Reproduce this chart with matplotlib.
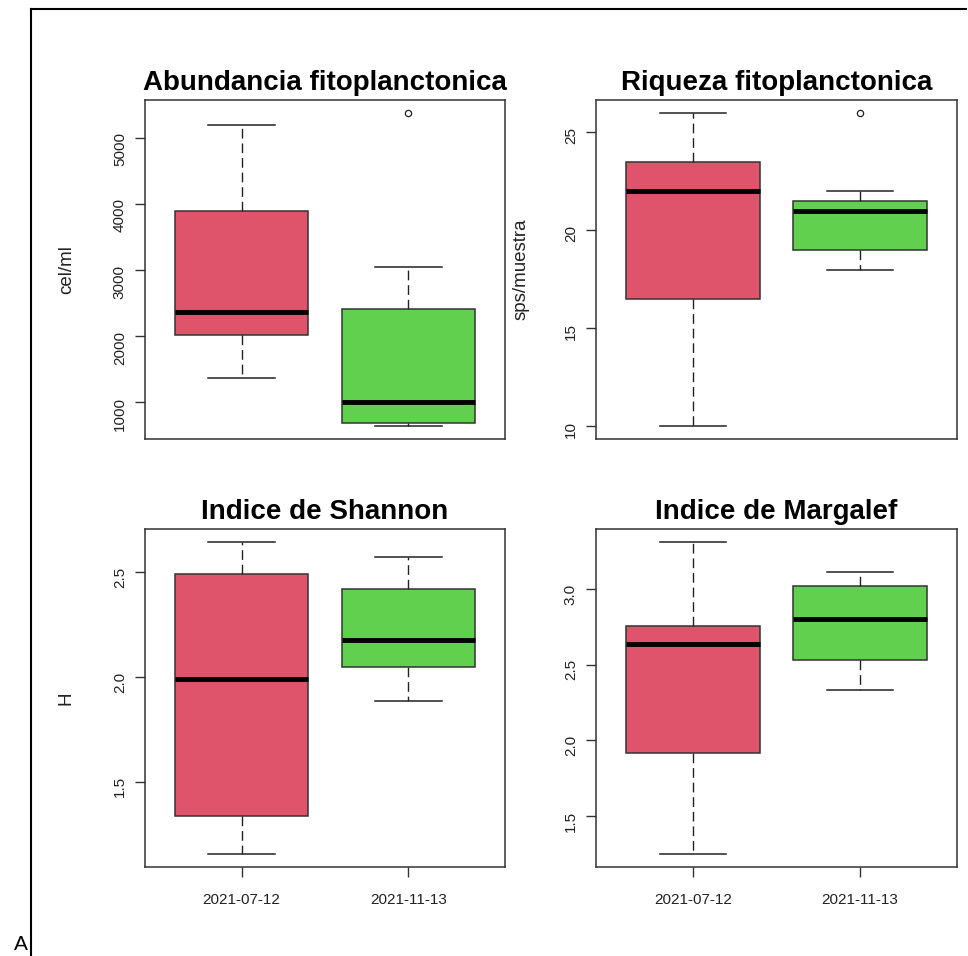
import numpy as np
import matplotlib.pyplot as plt
from matplotlib.ticker import MultipleLocator
from matplotlib.lines import Line2D

plt.rcParams['font.family'] = ['Liberation Sans', 'DejaVu Sans']

# datos (whislo, q1, mediana, q3, whishi)
fechas = ['2021-07-12', '2021-11-13']
colores = ['#DF536B', '#61D04F']

abund_stats = [[1370, 2023, 2367, 3885, 5187], [636, 681, 1000, 2408, 3041]]
abund_out = [[], [5380]]
riq_stats = [[10, 16.5, 22, 23.5, 26], [18, 19, 21, 21.5, 22]]
riq_out = [[], [26]]
shan_stats = [[1.154, 1.338, 1.99, 2.488, 2.645], [1.883, 2.045, 2.175, 2.419, 2.569]]
shan_out = [[], []]
marg_stats = [[1.245, 1.914, 2.633, 2.755, 3.313], [2.33, 2.527, 2.802, 3.018, 3.112]]
marg_out = [[], []]

W, H = 968, 956
fig = plt.figure(figsize=(W/100, H/100), dpi=100)

def caja(rect, stats, out, titulo, ylab, paso, abajo, labx):
    l, t, r, b = rect
    ax = fig.add_axes([l/W, 1-b/H, (r-l)/W, (b-t)/H])
    st = []
    for s, o, f in zip(stats, out, fechas):
        st.append(dict(whislo=s[0], q1=s[1], med=s[2], q3=s[3], whishi=s[4], fliers=o, label=f))
    bp = ax.bxp(st, positions=[1, 2], widths=0.8, capwidths=0.4, patch_artist=True,
                boxprops=dict(edgecolor='#333333', linewidth=1.1),
                medianprops=dict(color='black', linewidth=3.5, solid_capstyle='butt'),
                whiskerprops=dict(color='#222222', linewidth=1.0, linestyle=(0, (7, 3.5))),
                capprops=dict(color='#222222', linewidth=1.1),
                flierprops=dict(marker='o', markersize=4.5, markerfacecolor='none',
                                markeredgecolor='#222222', markeredgewidth=0.9))
    for p, c in zip(bp['boxes'], colores):
        p.set_facecolor(c)
    lo = min(min(s[0] for s in stats), min([v for o in out for v in o] or [np.inf]))
    hi = max(max(s[4] for s in stats), max([v for o in out for v in o] or [-np.inf]))
    d = 0.04*(hi-lo)
    ax.set_ylim(lo-d, hi+d)
    ax.set_xlim(0.5-0.08, 2.5+0.08)
    ax.yaxis.set_major_locator(MultipleLocator(paso))
    ax.tick_params(axis='y', length=7, width=1, color='#333333', labelrotation=90,
                   labelsize=11, pad=6, labelcolor='#222222')
    if abajo:
        ax.tick_params(axis='x', length=7, width=1, color='#333333', labelsize=11,
                       pad=12, labelcolor='#222222')
    else:
        ax.tick_params(axis='x', bottom=False, labelbottom=False)
    for sp in ax.spines.values():
        sp.set_color('#333333')
        sp.set_linewidth(1.1)
    ax.set_title(titulo, fontsize=20, fontweight='bold', pad=7)
    if ylab:
        ax.set_ylabel(ylab, fontsize=13.5, color='#222222')
        ax.yaxis.set_label_coords(labx, 0.5)
    return ax

caja((145, 100, 505, 439), abund_stats, abund_out, 'Abundancia fitoplanctonica', 'cel/ml', 1000, False, -0.194)
caja((596, 100, 957, 439), riq_stats, riq_out, 'Riqueza fitoplanctonica', 'sps/muestra', 5, False, -0.185)
caja((145, 529, 505, 867), shan_stats, shan_out, 'Indice de Shannon', 'H', 0.5, True, -0.196)
caja((596, 529, 957, 867), marg_stats, marg_out, 'Indice de Margalef', None, 0.5, True, 0)

# marco exterior y letra del panel
fig.add_artist(Line2D([31/W, 31/W], [0, 1-9/H], transform=fig.transFigure, color='black', lw=1.5))
fig.add_artist(Line2D([31/W, 966/W], [1-9/H, 1-9/H], transform=fig.transFigure, color='black', lw=1.5))
fig.text(14/W, 2/H, 'A', va='bottom', ha='left', fontsize=15)

fig.savefig('out.png', dpi=100)
